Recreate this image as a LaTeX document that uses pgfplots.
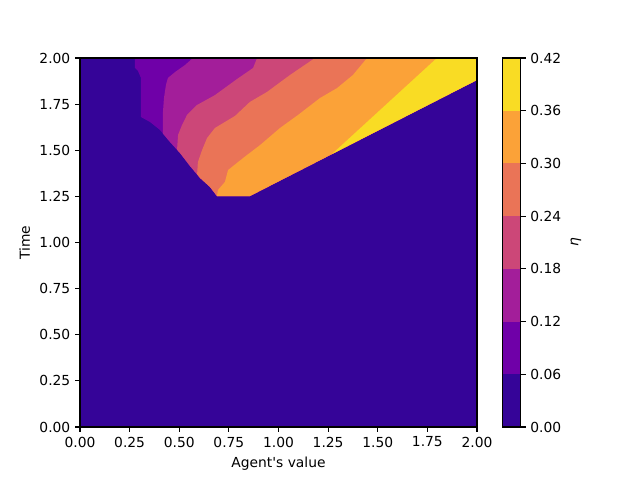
\documentclass[border=0pt]{standalone}
\usepackage{fontspec}
\setmainfont{DejaVu Sans}
\usepackage{pgfplots}
\pgfplotsset{compat=1.18}
% plasma colours of the seven filled levels
\definecolor{c0}{HTML}{350498}
\definecolor{c1}{HTML}{6F00A8}
\definecolor{c2}{HTML}{A31E9A}
\definecolor{c3}{HTML}{CC4778}
\definecolor{c4}{HTML}{EA7457}
\definecolor{c5}{HTML}{FBA238}
\definecolor{c6}{HTML}{F9DC24}
\pgfplotsset{
  mplstyle/.style={
    scale only axis,
    axis on top,
    tick align=outside,
    major tick length=3.5pt,
    every tick/.style={black, line width=0.8pt},
    axis line style={line width=0.8pt},
    ticklabel style={/pgf/number format/.cd, fixed, fixed zerofill, precision=2, assume math mode=true},
  },
}
\begin{document}
\begin{tikzpicture}
\begin{axis}[
    mplstyle,
    at={(0,0)}, anchor=south west,
    width=3.97in, height=3.69in,
    xmin=0, xmax=2, ymin=0, ymax=2,
    xtick={0,0.25,0.5,0.75,1,1.25,1.5,1.75,2},
    ytick={0,0.25,0.5,0.75,1,1.25,1.5,1.75,2},
    xtick pos=bottom, ytick pos=left,
    xlabel={Agent\textquotesingle s value},
    ylabel={Time},
]
% eta < 0.06 everywhere else
\addplot[fill=c0, draw=none] coordinates {(0,0) (2,0) (2,2) (0,2)} -- cycle;
% eta >= 0.06
\addplot[fill=c1, draw=none] coordinates {
  (0.277,2.000) (0.277,1.946) (0.292,1.930) (0.307,1.892) (0.307,1.680)
  (0.353,1.653) (0.403,1.610) (0.453,1.545) (0.504,1.485) (0.554,1.415)
  (0.605,1.350) (0.655,1.301) (0.690,1.252) (0.856,1.252) (2.000,1.881) (2,2)
} -- cycle;
% eta >= 0.12
\addplot[fill=c2, draw=none] coordinates {
  (0.569,2.000) (0.529,1.962) (0.479,1.924) (0.443,1.892) (0.433,1.854)
  (0.423,1.783) (0.418,1.707) (0.418,1.590) (0.453,1.545) (0.504,1.485)
  (0.554,1.415) (0.605,1.350) (0.655,1.301) (0.690,1.252) (0.856,1.252)
  (2.000,1.881) (2,2)
} -- cycle;
% eta >= 0.18
\addplot[fill=c3, draw=none] coordinates {
  (0.892,2.000) (0.872,1.946) (0.791,1.886) (0.680,1.799) (0.589,1.745)
  (0.539,1.691) (0.514,1.637) (0.494,1.583) (0.489,1.503) (0.504,1.485)
  (0.554,1.415) (0.605,1.350) (0.655,1.301) (0.690,1.252) (0.856,1.252)
  (2.000,1.881) (2,2)
} -- cycle;
% eta >= 0.24
\addplot[fill=c4, draw=none] coordinates {
  (1.184,2.000) (1.058,1.908) (0.942,1.816) (0.856,1.762) (0.781,1.686)
  (0.680,1.621) (0.640,1.566) (0.615,1.501) (0.594,1.436) (0.590,1.370)
  (0.605,1.350) (0.655,1.301) (0.690,1.252) (0.856,1.252) (2.000,1.881) (2,2)
} -- cycle;
% eta >= 0.30
\addplot[fill=c5, draw=none] coordinates {
  (1.446,2.000) (1.375,1.908) (1.295,1.837) (1.209,1.783) (1.098,1.691)
  (1.008,1.621) (0.907,1.528) (0.841,1.474) (0.796,1.436) (0.746,1.393)
  (0.730,1.328) (0.695,1.285) (0.690,1.252) (0.856,1.252) (2.000,1.881) (2,2)
} -- cycle;
% eta >= 0.36
\addplot[fill=c6, draw=none] coordinates {
  (1.798,2.000) (1.270,1.480) (2.000,1.881) (2,2)
} -- cycle;
\end{axis}

% colour bar
\begin{axis}[
    mplstyle,
    at={(4.227in,0)}, anchor=south west,
    width=0.18in, height=3.69in,
    xmin=0, xmax=1, ymin=0, ymax=0.42,
    xtick=\empty,
    ytick={0,0.06,0.12,0.18,0.24,0.30,0.36,0.42},
    ytick pos=right, yticklabel pos=right,
    ylabel={\itshape η},
]
\addplot[fill=c0, draw=none] coordinates {(0,0) (1,0) (1,0.06) (0,0.06)} -- cycle;
\addplot[fill=c1, draw=none] coordinates {(0,0.06) (1,0.06) (1,0.12) (0,0.12)} -- cycle;
\addplot[fill=c2, draw=none] coordinates {(0,0.12) (1,0.12) (1,0.18) (0,0.18)} -- cycle;
\addplot[fill=c3, draw=none] coordinates {(0,0.18) (1,0.18) (1,0.24) (0,0.24)} -- cycle;
\addplot[fill=c4, draw=none] coordinates {(0,0.24) (1,0.24) (1,0.30) (0,0.30)} -- cycle;
\addplot[fill=c5, draw=none] coordinates {(0,0.30) (1,0.30) (1,0.36) (0,0.36)} -- cycle;
\addplot[fill=c6, draw=none] coordinates {(0,0.36) (1,0.36) (1,0.42) (0,0.42)} -- cycle;
\end{axis}
\pgfresetboundingbox
\path (-0.80in,-0.53in) rectangle (5.60in,4.27in);
\end{tikzpicture}
\end{document}
